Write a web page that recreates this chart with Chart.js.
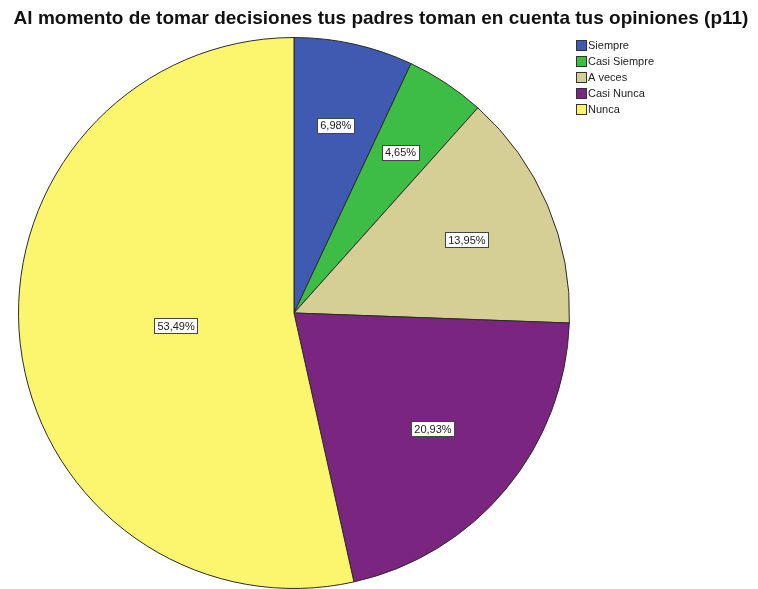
<!DOCTYPE html>
<html>
<head>
<meta charset="utf-8">
<script src="https://cdn.jsdelivr.net/npm/chart.js@4.4.1/dist/chart.umd.min.js"></script>
<style>
  html, body { margin: 0; padding: 0; background: #fff; overflow: hidden; }
  #wrap { position: relative; width: 758px; height: 589px; }
</style>
</head>
<body>
<div id="wrap"><canvas id="chart" width="758" height="589"></canvas></div>
<script>
// datos de la pregunta p11
const titulo = "Al momento de tomar decisiones tus padres toman en cuenta tus opiniones (p11)";
const categorias = ["Siempre", "Casi Siempre", "A veces", "Casi Nunca", "Nunca"];
const porcentajes = [6.98, 4.65, 13.95, 20.93, 53.49];
const colores = ["#3f5ab0", "#3dbd45", "#d5cf95", "#7a2680", "#fbf66e"];

// titulo, leyenda y etiquetas tipo SPSS
const spssPlugin = {
    id: "spss",
    afterDraw(chart) {
        const ctx = chart.ctx;
        ctx.save();

        // titulo
        ctx.fillStyle = "#111";
        ctx.font = "bold 19px 'Liberation Sans', Arial, sans-serif";
        ctx.textAlign = "center";
        ctx.textBaseline = "middle";
        ctx.fillText(titulo, 381, 19);

        // leyenda
        ctx.font = "11px 'Liberation Sans', Arial, sans-serif";
        ctx.textAlign = "left";
        categorias.forEach((c, i) => {
            const y = 40 + i * 16;
            ctx.fillStyle = colores[i];
            ctx.fillRect(576.5, y + 0.5, 10, 10);
            ctx.strokeStyle = "#333";
            ctx.lineWidth = 1;
            ctx.strokeRect(576.5, y + 0.5, 10, 10);
            ctx.fillStyle = "#222";
            ctx.fillText(c, 588, y + 6);
        });

        // etiquetas cerca del centroide de cada sector
        const arcs = chart.getDatasetMeta(0).data;
        ctx.font = "11px 'Liberation Sans', Arial, sans-serif";
        ctx.textAlign = "center";
        arcs.forEach((arc, i) => {
            const p = arc.getProps(["x", "y", "startAngle", "endAngle", "outerRadius"], true);
            const half = (p.endAngle - p.startAngle) / 2;
            const mid = p.startAngle + half;
            const d = (2 * p.outerRadius * Math.sin(half)) / (3 * half) + 10;
            const x = p.x + Math.cos(mid) * d;
            const y = p.y + Math.sin(mid) * d;
            const txt = porcentajes[i].toFixed(2).replace(".", ",") + "%";
            const w = ctx.measureText(txt).width + 6;
            const h = 15;
            ctx.fillStyle = "#fff";
            ctx.fillRect(Math.round(x - w / 2) + 0.5, Math.round(y - h / 2) + 0.5, Math.round(w), h);
            ctx.strokeStyle = "#444";
            ctx.strokeRect(Math.round(x - w / 2) + 0.5, Math.round(y - h / 2) + 0.5, Math.round(w), h);
            ctx.fillStyle = "#222";
            ctx.fillText(txt, x, y + 1);
        });

        ctx.restore();
    }
};

const ctx = document.getElementById("chart").getContext("2d");
new Chart(ctx, {
    type: "pie",
    data: {
        labels: categorias,
        datasets: [{
            data: porcentajes,
            backgroundColor: colores,
            borderColor: "#2b2b2b",
            borderWidth: 1
        }]
    },
    options: {
        responsive: false,
        animation: false,
        layout: {
            padding: { left: 18, right: 188, top: 37, bottom: 0 }
        },
        plugins: {
            legend: { display: false },
            title: { display: false },
            tooltip: { enabled: false }
        }
    },
    plugins: [spssPlugin]
});
</script>
</body>
</html>
